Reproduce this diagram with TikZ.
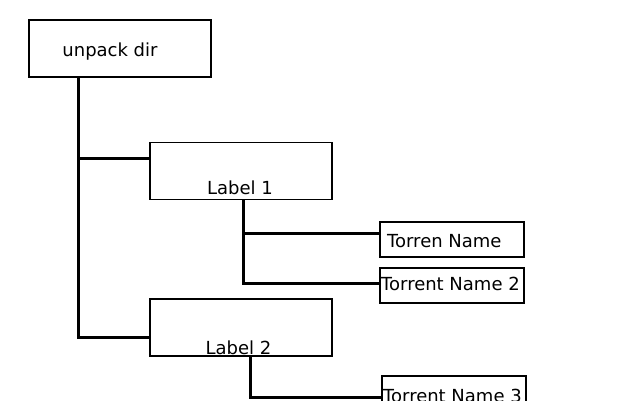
\documentclass[tikz,border=0pt]{standalone}
\usepackage{fontspec}
\setmainfont{DejaVu Sans}
\usetikzlibrary{positioning}
\tikzset{
  box/.style={draw, line width=1.8pt, rectangle, inner sep=0pt},
  dirbox/.style={box, minimum width=182pt, minimum height=57pt},
  filebox/.style={box, minimum width=144pt, minimum height=35pt},
  wire/.style={line width=3pt, line join=miter}
}
\begin{document}
\begin{tikzpicture}[x=1pt, y=-1pt, font=\fontsize{18}{21}\selectfont]
		%%%%% START %%%%%
		\useasboundingbox (0, 0) rectangle (640, 400);
		
		\node[dirbox] (unpack) at (120, 48.5) {};
		\node[anchor=base] (unpacktxt) at (110, 56) {unpack dir};
		
		\node[dirbox] (label1) at (241, 171) {};
		\node[anchor=base] (label1txt) at (240, 194) {Label 1};
		
		\node[dirbox] (label2) at (241, 327.5) {};
		\node[anchor=base] (label2txt) at (238.5, 354) {Label 2};
		
		\node[filebox] (torrent1) at (452, 239.5) {};
		\node[anchor=base west, inner sep=0pt] (torrent1txt) at (387, 247) {Torren Name};
		
		\node[filebox] (torrent2) at (452, 285.5) {};
		\node[anchor=base west, inner sep=0pt] (torrent2txt) at (381, 290) {Torrent Name 2};
		
		\node[filebox] (torrent3) at (454, 393.5) {};
		\node[anchor=base west, inner sep=0pt] (torrent3txt) at (383, 402) {Torrent Name 3};
		
		% tree lines
		\coordinate (trunkA) at (78, 158);
		\coordinate (trunkB) at (78, 337);
		\draw[wire] (unpack.south -| trunkA) -- (trunkB) -- (trunkB -| label2.west);
		\draw[wire] (trunkA) -- (trunkA -| label1.west);
		
		\coordinate (subA) at (243, 233);
		\coordinate (subB) at (243, 283);
		\draw[wire] (label1.south -| subA) -- (subB) -- (subB -| torrent2.west);
		\draw[wire] (subA) -- (subA -| torrent1.west);
		
		\coordinate (subC) at (250, 397);
		\draw[wire] (label2.south -| subC) -- (subC) -- (subC -| torrent3.west);
		
		%%%%% END %%%%%
\end{tikzpicture}
\end{document}
